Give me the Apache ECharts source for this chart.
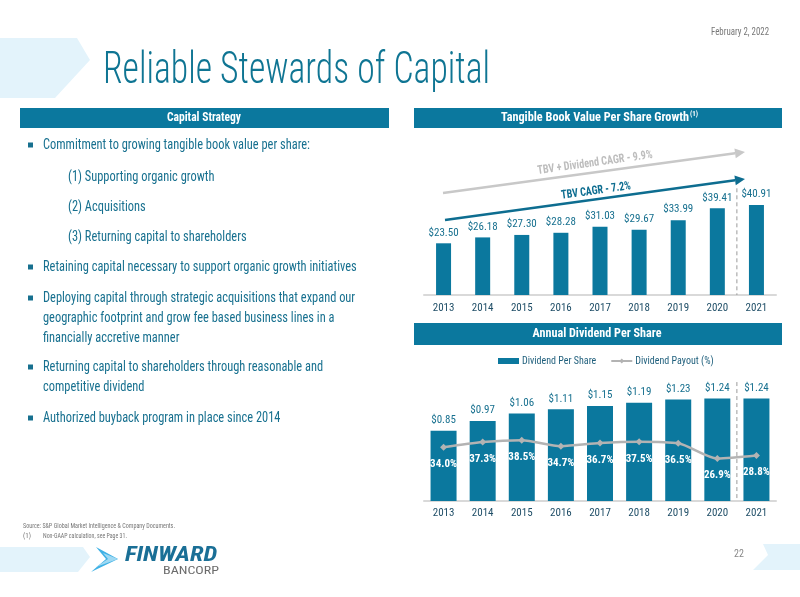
<!DOCTYPE html>
<html><head><meta charset="utf-8">
<script src="https://cdn.jsdelivr.net/npm/echarts@6/dist/echarts.min.js"></script>
<style>html,body{margin:0;padding:0;background:#fff}#c{width:800px;height:597px}</style>
</head><body><div id="c"></div>
<script>
// ---------------- DATA ----------------
const years = ['2013','2014','2015','2016','2017','2018','2019','2020','2021'];
const tbvPerShare = [23.50, 26.18, 27.30, 28.28, 31.03, 29.67, 33.99, 39.41, 40.91];
const dividendPerShare = [0.85, 0.97, 1.06, 1.11, 1.15, 1.19, 1.23, 1.24, 1.24];
const dividendPayout = [34.0, 37.3, 38.5, 34.7, 36.7, 37.5, 36.5, 26.9, 28.8];
const seriesNames = ['Dividend Per Share', 'Dividend Payout (%)'];
const titleText = 'Reliable Stewards of Capital';
const dateText = 'February 2, 2022';
const headerTexts = ['Capital Strategy', 'Tangible Book Value Per Share Growth', 'Annual Dividend Per Share'];
const strategyLines = [
  'Commitment to growing tangible book value per share:',
  '(1) Supporting organic growth',
  '(2) Acquisitions',
  '(3) Returning capital to shareholders',
  'Retaining capital necessary to support organic growth initiatives',
  'Deploying capital through strategic acquisitions that expand our',
  'geographic footprint and grow fee based business lines in a',
  'financially accretive manner',
  'Returning capital to shareholders through reasonable and',
  'competitive dividend',
  'Authorized buyback program in place since 2014'
];
const annotationTexts = ['TBV + Dividend CAGR - 9.9%', 'TBV CAGR - 7.2%'];
const footnotes = ['Source: S&P Global Market Intelligence & Company Documents.', '(1)', 'Non-GAAP calculation, see Page 31.'];
const pageNumber = '22';

// ---------------- STYLE ----------------
const FONT = "'Roboto Condensed','Open Sans Condensed','DejaVu Sans Condensed',sans-serif";
const TEAL = '#0b789e';
const TEXT_TEAL = '#17708f';
const LIGHT = '#e3f3fb';

const mctx = document.createElement('canvas').getContext('2d');
function measure(text, size, weight) {
  mctx.font = (weight || 'normal') + ' ' + size + 'px ' + FONT;
  return mctx.measureText(text).width;
}
function txt(text, x, y, size, color, o) {
  o = o || {};
  const weight = o.weight || 'normal';
  let sx = 1;
  if (o.target) sx = o.target / measure(text, size, weight);
  return {
    type: 'text', x: x, y: y, scaleX: sx, rotation: o.rotation || 0, z: o.z || 10,
    style: { text: text, fill: color, fontSize: size, fontWeight: weight, fontFamily: FONT,
      fontStyle: o.italic ? 'italic' : 'normal',
      align: o.align || 'left', verticalAlign: 'middle' }
  };
}
function arrow(x1, y1, x2, y2, color, w) {
  const dx = x2 - x1, dy = y2 - y1, L = Math.sqrt(dx*dx + dy*dy);
  const ux = dx / L, uy = dy / L, hl = 10, hw = 5;
  const bx = x2 - ux * hl, by = y2 - uy * hl;
  return [
    { type: 'line', z: 5, shape: { x1: x1, y1: y1, x2: bx, y2: by }, style: { stroke: color, lineWidth: w } },
    { type: 'polygon', z: 5, shape: { points: [[x2, y2], [bx - uy * hw, by + ux * hw], [bx + uy * hw, by - ux * hw]] }, style: { fill: color } }
  ];
}

const chart = echarts.init(document.getElementById('c'));

const bodyScale = 267 / measure(strategyLines[0], 15);
const lineY = [145, 177, 207, 237, 267, 298, 318, 338, 367, 387, 418];
const lineX = [43, 68, 68, 68, 43, 43, 43, 43, 43, 43, 43];
const bulletIdx = [0, 4, 5, 8, 10];

const graphics = [];
graphics.push({ type: 'polygon', z: 1, shape: { points: [[0,38],[77,38],[90,60],[55,98],[0,98]] }, style: { fill: LIGHT } });
graphics.push({ type: 'polygon', z: 1, shape: { points: [[0,547],[83,547],[90,557],[78,572],[0,572]] }, style: { fill: LIGHT } });
graphics.push({ type: 'polygon', z: 1, shape: { points: [[763,544],[800,544],[800,570],[753,570],[768,555]] }, style: { fill: LIGHT } });
graphics.push(txt(titleText, 103, 72, 44, '#0f7593', { target: 387, weight: 300 }));
graphics.push(txt(dateText, 769, 32, 10, '#777', { align: 'right', target: 58 }));
graphics.push({ type: 'rect', z: 2, shape: { x: 20, y: 108, width: 369, height: 20 }, style: { fill: TEAL } });
graphics.push({ type: 'rect', z: 2, shape: { x: 414, y: 108, width: 368, height: 20 }, style: { fill: TEAL } });
graphics.push({ type: 'rect', z: 2, shape: { x: 414, y: 323, width: 368, height: 22 }, style: { fill: TEAL } });
graphics.push(txt(headerTexts[0], 204, 118, 13, '#fff', { align: 'center', weight: 'bold', target: 74 }));
graphics.push(txt(headerTexts[1], 595, 118, 13, '#fff', { align: 'center', weight: 'bold', target: 188 }));
graphics.push(txt('(1)', 690, 114, 7, '#fff', { weight: 'bold' }));
graphics.push(txt(headerTexts[2], 597, 334, 13, '#fff', { align: 'center', weight: 'bold', target: 129 }));
strategyLines.forEach(function (t, i) {
  const g = txt(t, lineX[i], lineY[i], 15, TEXT_TEAL);
  g.scaleX = bodyScale;
  graphics.push(g);
});
bulletIdx.forEach(function (i) {
  graphics.push({ type: 'rect', z: 3, shape: { x: 28, y: lineY[i] - 2.5, width: 5, height: 5 }, style: { fill: TEXT_TEAL } });
});
arrow(443, 193, 745, 152, '#c8c8c8', 2.5).forEach(function (g) { graphics.push(g); });
arrow(445, 220, 745, 179, '#0d6d90', 2.5).forEach(function (g) { graphics.push(g); });
graphics.push(txt(annotationTexts[0], 595, 163, 12, '#bdbdbd', { align: 'center', weight: 'bold', target: 116, rotation: 0.14 }));
graphics.push(txt(annotationTexts[1], 596, 191, 12, '#0d6d90', { align: 'center', weight: 'bold', target: 70, rotation: 0.14 }));
graphics.push(txt(footnotes[0], 23, 526, 7, '#777', { target: 152 }));
graphics.push(txt(footnotes[1], 23, 536, 7, '#777'));
graphics.push(txt(footnotes[2], 43, 536, 7, '#777', { target: 84 }));
graphics.push({ type: 'polygon', z: 3, shape: { points: [[96,547],[118,559],[91,572],[106,559]] }, style: { fill: '#3fb1e5' } });
graphics.push({ type: 'polygon', z: 4, shape: { points: [[103,553],[118,559],[96,567],[108,559]] }, style: { fill: '#9fd9f3' } });
graphics.push(txt('FINWARD', 125, 556, 21, '#1a6f96', { weight: 'bold', italic: true, target: 95 }));
graphics.push(txt('BANCORP', 163, 571, 10, '#6b6b6b', { target: 56 }));
graphics.push(txt(pageNumber, 739, 554, 10, '#888', { align: 'center' }));

const labelStyle = { color: TEXT_TEAL, fontSize: 11, fontFamily: FONT };
const axisCommon = {
  type: 'category', data: years,
  axisLine: { lineStyle: { color: '#d9d9d9', width: 2 } },
  axisTick: { show: false },
  axisLabel: { color: '#1f4e67', fontSize: 11, fontFamily: FONT }
};

const option = {
  animation: false,
  textStyle: { fontFamily: FONT },
  legend: {
    left: 493, top: 351, itemWidth: 21, itemHeight: 6, itemGap: 14,
    textStyle: { fontSize: 10, color: '#1f5f7c', fontFamily: FONT, padding: [0, 0, 0, -2] },
    data: [{ name: seriesNames[0], icon: 'rect' }, { name: seriesNames[1] }]
  },
  grid: [
    { left: 424, right: 24, top: 185, height: 110 },
    { left: 424, right: 24, top: 343, height: 158 }
  ],
  xAxis: [
    Object.assign({}, axisCommon, { gridIndex: 0, axisLabel: Object.assign({}, axisCommon.axisLabel, { margin: 8 }) }),
    Object.assign({}, axisCommon, { gridIndex: 1, axisLabel: Object.assign({}, axisCommon.axisLabel, { margin: 7 }) })
  ],
  yAxis: [
    { gridIndex: 0, min: 0, max: 50, show: false },
    { gridIndex: 1, min: 0, max: 1.913, show: false },
    { gridIndex: 1, min: 0, max: 100, show: false }
  ],
  series: [
    { type: 'bar', xAxisIndex: 0, yAxisIndex: 0, data: tbvPerShare, barWidth: 15,
      itemStyle: { color: TEAL },
      label: Object.assign({ show: true, position: 'top', distance: 5, formatter: function (p) { return '$' + p.value.toFixed(2); } }, labelStyle) },
    { name: seriesNames[0], type: 'bar', xAxisIndex: 1, yAxisIndex: 1, data: dividendPerShare, barWidth: 26,
      itemStyle: { color: TEAL },
      label: Object.assign({ show: true, position: 'top', distance: 5, formatter: function (p) { return '$' + p.value.toFixed(2); } }, labelStyle) },
    { name: seriesNames[1], type: 'line', xAxisIndex: 1, yAxisIndex: 2, data: dividendPayout, smooth: 0.25,
      symbol: 'diamond', symbolSize: 7, z: 5,
      lineStyle: { color: '#b3b3b3', width: 2.5 }, itemStyle: { color: '#b3b3b3' },
      label: { show: true, position: 'bottom', distance: 8, color: '#fff', fontWeight: 'bold', fontSize: 11, fontFamily: FONT,
        formatter: function (p) { return p.value.toFixed(1) + '%'; } } }
  ],
  graphic: graphics
};
chart.setOption(option);

const a0 = chart.convertToPixel({ xAxisIndex: 0 }, years[years.length - 2]);
const a1 = chart.convertToPixel({ xAxisIndex: 0 }, years[years.length - 1]);
const xs = (a0 + a1) / 2;
const topBase = chart.convertToPixel({ yAxisIndex: 0 }, 0);
const botBase = chart.convertToPixel({ yAxisIndex: 1 }, 0);
const sepTop = chart.convertToPixel({ yAxisIndex: 0 }, 48.5);
const sepBot = chart.convertToPixel({ yAxisIndex: 1 }, 1.44);
const dashed = { stroke: '#9a9a9a', lineWidth: 1, lineDash: [4, 3] };
chart.setOption({ graphic: graphics.concat([
  { type: 'line', z: 4, shape: { x1: xs, y1: sepTop, x2: xs, y2: topBase }, style: dashed },
  { type: 'line', z: 4, shape: { x1: xs, y1: sepBot, x2: xs, y2: botBase }, style: dashed }
]) });
</script></body></html>
